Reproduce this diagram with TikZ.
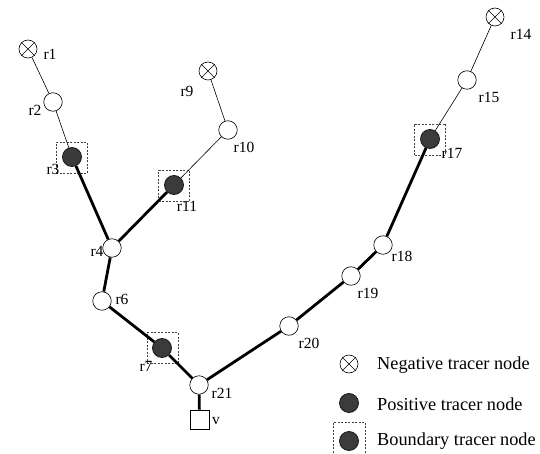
\documentclass[tikz,border=0pt]{standalone}
\usepackage{fontspec}
\setmainfont{Liberation Serif}
\usetikzlibrary{shapes.misc}
\begin{document}
\begin{tikzpicture}[x=1pt,y=-1pt,
  plain/.style={circle,draw=black,fill=white,minimum size=18.5pt,inner sep=0pt,line width=0.6pt},
  negx/.style={circle,cross out,draw=black,minimum size=13pt,inner sep=0pt,line width=0.6pt},
  negring/.style={circle,draw=black,fill=white,minimum size=18pt,inner sep=0pt,line width=0.6pt},
  posnode/.style={circle,draw=black!90,fill=black!77,minimum size=19pt,inner sep=0pt,line width=0.8pt},
  bbox/.style={draw=black!75,dash pattern=on 2pt off 1.5pt,minimum width=31pt,minimum height=31pt,inner sep=0pt,line width=0.5pt},
  sq/.style={draw=black,fill=white,minimum size=19pt,inner sep=0pt,line width=0.6pt},
  lbl/.style={font=\fontsize{15.5}{16}\selectfont,inner sep=0pt},
  leg/.style={font=\fontsize{18.3}{20}\selectfont,inner sep=0pt,anchor=west},
  thinedge/.style={line width=0.6pt},
  thickedge/.style={line width=2.8pt}]
\useasboundingbox (0,0) rectangle (540,454);
% nodes
\node[negring] (r1) at (28,49) {}; \node[negx] (r1x) at (r1) {};
\node[plain] (r2) at (53,102) {};
\node[bbox] (b3) at (71.5,158) {};
\node[posnode] (r3) at (72,157) {};
\node[negring] (r9) at (208,71) {}; \node[negx] (r9x) at (r9) {};
\node[plain] (r10) at (228,130) {};
\node[bbox] (b11) at (174,186) {};
\node[posnode] (r11) at (174,185) {};
\node[negring] (r14) at (495,17) {}; \node[negx] (r14x) at (r14) {};
\node[plain] (r15) at (467,80) {};
\node[bbox] (b17) at (430,139.5) {};
\node[posnode] (r17) at (430,139) {};
\node[plain] (r4) at (112,248) {};
\node[plain] (r6) at (102,301) {};
\node[bbox] (b7) at (162.5,348) {};
\node[posnode] (r7) at (162,348) {};
\node[plain] (r21) at (199,385) {};
\node[sq] (v) at (199.5,419.5) {};
\node[plain] (r18) at (383,245) {};
\node[plain] (r19) at (351,276) {};
\node[plain] (r20) at (289,326) {};
% edges
\draw[thinedge] (r1) -- (r2);
\draw[thinedge] (r2) -- (r3);
\draw[thinedge] (r9) -- (r10);
\draw[thinedge] (r10) -- (r11);
\draw[thinedge] (r14) -- (r15);
\draw[thinedge] (r15) -- (r17);
\draw[thickedge] (r3) -- (r4);
\draw[thickedge] (r11) -- (r4);
\draw[thickedge] (r4) -- (r6);
\draw[thickedge] (r6) -- (r7);
\draw[thickedge] (r7) -- (r21);
\draw[thickedge] (r21) -- (v);
\draw[thickedge] (r21) -- (r20);
\draw[thickedge] (r20) -- (r19);
\draw[thickedge] (r19) -- (r18);
\draw[thickedge] (r18) -- (r17);
% labels
\node[lbl] (l1) at (50,54) {r1};
\node[lbl] (l2) at (35,110) {r2};
\node[lbl] (l3) at (53,169) {r3};
\node[lbl] (l9) at (187,91) {r9};
\node[lbl] (l10) at (244,147) {r10};
\node[lbl] (l11) at (187,206) {r11};
\node[lbl] (l14) at (521,34) {r14};
\node[lbl] (l15) at (489,97) {r15};
\node[lbl] (l17) at (452,153) {r17};
\node[lbl] (l4) at (97,251) {r4};
\node[lbl] (l6) at (122,299) {r6};
\node[lbl] (l7) at (146,366) {r7};
\node[lbl] (l21) at (222,393) {r21};
\node[lbl] (lv) at (216,421) {v};
\node[lbl] (l18) at (402,256) {r18};
\node[lbl] (l19) at (368,293) {r19};
\node[lbl] (l20) at (309,343) {r20};
% legend
\node[negring] (gneg) at (349,364) {}; \node[negx] (gnegx) at (gneg) {};
\node[posnode] (gpos) at (349,403) {};
\node[bbox,minimum width=32pt,minimum height=37pt] (gbox) at (349,440.5) {};
\node[posnode] (gbnd) at (349,441) {};
\node[leg] (t1) at (377,365) {Negative tracer node};
\node[leg] (t2) at (377,404) {Positive tracer node};
\node[leg] (t3) at (377,441) {Boundary tracer node};
\end{tikzpicture}
\end{document}
